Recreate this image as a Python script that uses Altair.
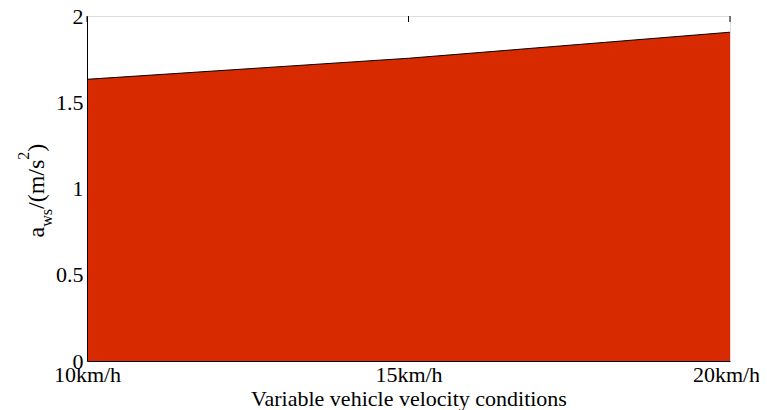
import altair as alt
import pandas as pd

conditions = ["10km/h", "15km/h", "20km/h"]
aws_values = [1.633, 1.755, 1.906]
y_ticks = [0, 0.5, 1, 1.5, 2]

df = pd.DataFrame({"cond": conditions, "aws": aws_values})

FONT = "Times New Roman, Liberation Serif, serif"
W, H = 643, 345

x_enc = alt.X(
    "cond:O",
    sort=conditions,
    scale=alt.Scale(type="point", padding=0),
    axis=alt.Axis(
        title="Variable vehicle velocity conditions",
        labelAngle=0,
        ticks=False,
        tickSize=0,
        labelPadding=3,
        titlePadding=3,
        labelOffset={"condition": {"test": "datum.index == 1", "value": -4}, "value": 0},
        domainColor="black",
        labelFontSize=22,
        titleFontSize=22,
        titleFontWeight="normal",
        labelFont=FONT,
        titleFont=FONT,
        labelColor="black",
        titleColor="black",
        zindex=1,
    ),
)
y_enc = alt.Y(
    "aws:Q",
    scale=alt.Scale(domain=[0, 2], nice=False),
    axis=alt.Axis(
        title=None,
        values=y_ticks,
        labelExpr="'' + datum.value",
        ticks=False,
        tickSize=0,
        grid=False,
        labelPadding=4,
        domainColor="black",
        labelFontSize=22,
        labelFont=FONT,
        labelColor="black",
        zindex=1,
    ),
)

area = alt.Chart(df).mark_area(
    color="#d82a00", opacity=1, line=alt.LineConfig(color="black", strokeWidth=1)
).encode(x=x_enc, y=y_enc)

ticks = alt.Chart(df).mark_rule(color="black", strokeWidth=1).encode(
    x=alt.X("cond:O", sort=conditions), y=alt.value(0), y2=alt.value(6)
)

one = pd.DataFrame({"k": [0]})

def piece(text, size, xv, yv):
    return alt.Chart(one).mark_text(
        text=text,
        font=FONT,
        fontSize=size,
        angle=270,
        align="left",
        baseline="alphabetic",
        color="black",
    ).encode(x=alt.value(xv), y=alt.value(yv))

# y-axis title a_ws/(m/s^2), composed of pieces (offsets relative to plot origin)
title_parts = [
    piece("a", 24, -43.5, 221.5),
    piece("ws", 16, -35.5, 210.8),
    piece("/(m/s", 24, -43.5, 193.0),
    piece("2", 16, -58.5, 143.7),
    piece(")", 24, -43.5, 135.7),
]

chart = alt.layer(area, ticks, *title_parts).properties(
    width=W,
    height=H,
    padding={"left": 79, "top": 8, "right": 29, "bottom": 52},
    autosize=alt.AutoSizeParams(type="none"),
).configure_view(stroke="black", strokeWidth=1).configure(background="white")

chart.save("out.html", embed_options={"renderer": "svg", "actions": False})
